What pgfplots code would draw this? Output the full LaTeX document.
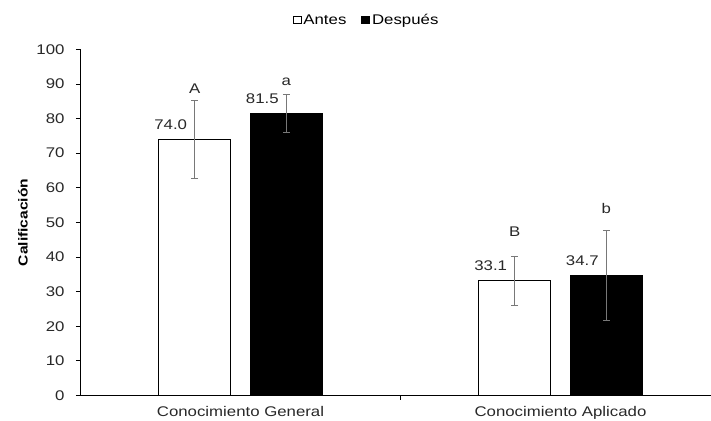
\documentclass[border=0pt]{standalone}
\usepackage{fontspec}
\setmainfont[FakeStretch=1.2]{Liberation Sans}
\usepackage{pgfplots}
\pgfplotsset{compat=1.18}

\newcommand\lab{\fontsize{14bp}{16bp}\selectfont}
\definecolor{errgray}{RGB}{120,120,120}
\definecolor{txt}{RGB}{40,40,40}

\begin{document}
\begin{tikzpicture}
\useasboundingbox (-80.5bp,-25.5bp) rectangle (630.5bp,395.5bp);
\begin{axis}[
  at={(0,0)}, anchor=south west,
  scale only axis, width=640bp, height=346.2bp,
  xmin=-0.5, xmax=1.5, ymin=0, ymax=100,
  axis x line*=bottom, axis y line*=left,
  axis line style={-, line width=0.8bp, black},
  tick align=outside, major tick length=4.5bp,
  tick style={line width=0.8bp, black},
  ytick={0,10,...,100},
  xtick={0.5}, xticklabels={},
  extra x ticks={0,1},
  extra x tick labels={Conocimiento General, Conocimiento Aplicado},
  extra x tick style={major tick length=0pt, xticklabel style={yshift=-7bp}},
  ticklabel style={font=\lab, text=txt},
  yticklabel style={xshift=-8bp},
  /pgf/number format/assume math mode=true,
  ylabel={\textbf{Calificación}},
  ylabel style={font=\fontsize{13bp}{15bp}\selectfont, at={(axis description cs:-0.09,0.5)}, anchor=center},
  legend style={at={(axis description cs:0.447,1.0846)}, anchor=center, draw=none, fill=none,
    font=\lab, legend columns=2, inner sep=0pt,
    nodes={inner xsep=2bp},
    /tikz/every even column/.append style={column sep=13bp}},
  legend cell align=left,
  nodes near coords={\pgfmathprintnumber[fixed, fixed zerofill, precision=1]{\pgfplotspointmeta}},
  nodes near coords style={font=\lab, text=txt, anchor=center, xshift=-24bp, yshift=15bp},
  error bars/error bar style={errgray, line width=0.9bp},
  error bars/error mark options={errgray, rotate=90, mark size=3.5bp, line width=0.9bp},
]
% Antes (barras a la izquierda de cada categoría)
\addplot[ybar, bar width=0.225, bar shift=0, fill=white, draw=black, line width=0.9bp,
  legend image code/.code={\draw[black, fill=white, line width=0.7bp] (0bp,-3.8bp) rectangle (8bp,3.8bp);},
  error bars/.cd, y dir=both, y explicit]
  coordinates {(-0.143,74.0) +- (0,11.3) (0.857,33.1) +- (0,7.2)};
\addlegendentry{Antes}
% Después (barras a la derecha de cada categoría)
\addplot[ybar, bar width=0.225, bar shift=0, fill=black, draw=black, line width=0.9bp,
  legend image code/.code={\draw[black, fill=black, line width=0.7bp] (0bp,-3.8bp) rectangle (8bp,3.8bp);},
  error bars/.cd, y dir=both, y explicit]
  coordinates {(0.143,81.5) +- (0,5.5) (1.143,34.7) +- (0,13.0)};
\addlegendentry{Después}
% letras de significancia
\node[font=\lab, text=txt] at (axis cs:-0.143,88.6) {A};
\node[font=\lab, text=txt] at (axis cs:0.143,90.7) {a};
\node[font=\lab, text=txt] at (axis cs:0.857,47.3) {B};
\node[font=\lab, text=txt] at (axis cs:1.143,53.9) {b};
\end{axis}
\end{tikzpicture}
\end{document}
